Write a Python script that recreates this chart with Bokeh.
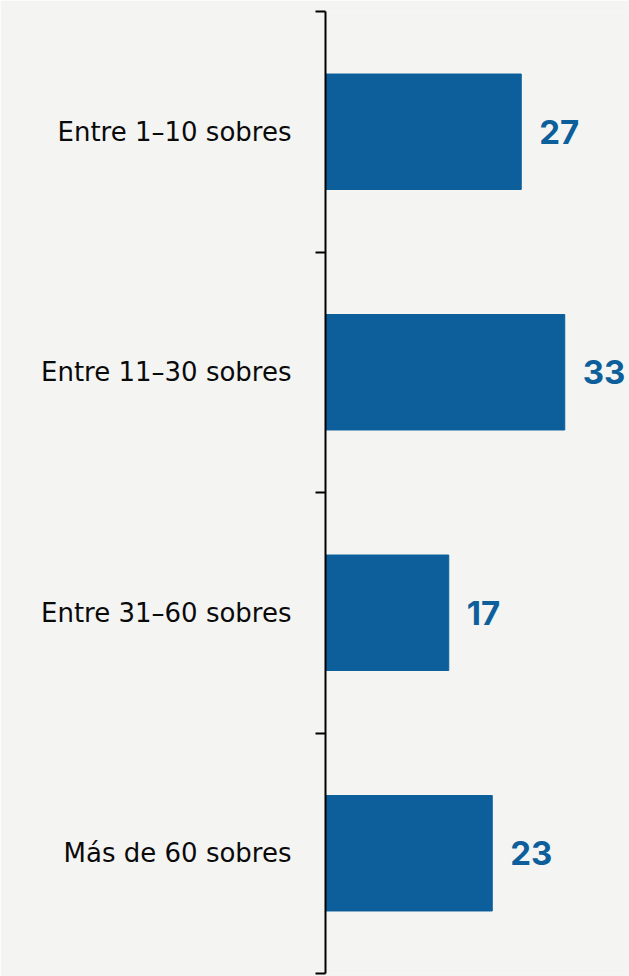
from bokeh.plotting import figure
from bokeh.models import Range1d, FixedTicker, ColumnDataSource
from bokeh.core.properties import value
from bokeh.embed import file_html
from bokeh.resources import INLINE

categories = ["Entre 1–10 sobres", "Entre 11–30 sobres", "Entre 31–60 sobres", "Más de 60 sobres"]
values = [27, 33, 17, 23]
value_labels = ["27", "33", "17", "23"]

BG = "#f4f4f3"
BLUE = "#0c5f9a"

centers = [i + 0.5 for i in range(len(categories))]
src = ColumnDataSource(dict(y=centers, v=values, lab=value_labels))

p = figure(width=629, height=976, output_backend="svg", toolbar_location=None,
           x_range=Range1d(0, 304 / 7.25), y_range=Range1d(len(categories), 0),
           min_border_left=325, min_border_top=11, min_border_bottom=3, min_border_right=0,
           x_axis_location=None, background_fill_color=BG, border_fill_color=BG)
p.outline_line_color = None
p.grid.visible = False

p.hbar(y="y", left=0, right="v", height=0.48, color=BLUE, source=src)
p.text(x="v", y="y", text="lab", source=src, x_offset=18, text_align="left",
       text_baseline="middle", text_color=BLUE, text_font=value("Inter"),
       text_font_size="33px", text_font_style="bold")

ax = p.yaxis[0]
ax.ticker = FixedTicker(ticks=centers, minor_ticks=list(range(len(categories) + 1)))
ax.major_label_overrides = {c: lab for c, lab in zip(centers, categories)}
ax.major_tick_out = 0
ax.major_tick_in = 0
ax.minor_tick_out = 10
ax.minor_tick_in = 0
ax.minor_tick_line_width = 2
ax.minor_tick_line_color = "black"
ax.axis_line_width = 2
ax.axis_line_color = "black"
ax.major_label_standoff = 24
ax.major_label_text_font = "DejaVu Sans"
ax.major_label_text_font_size = "26px"
ax.major_label_text_color = "#0a0a0a"

open("out.html", "w").write(file_html(p, INLINE))
